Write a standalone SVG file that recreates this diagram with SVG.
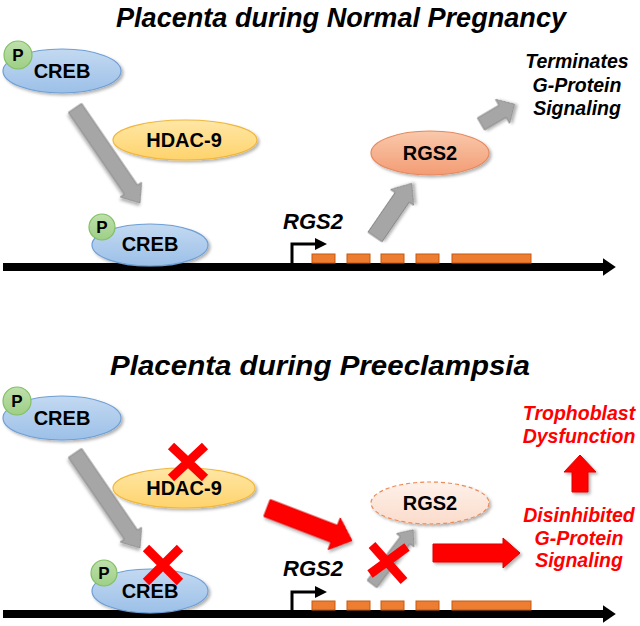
<svg xmlns="http://www.w3.org/2000/svg" width="640" height="626" viewBox="0 0 640 626">
<defs>
<style>
text{font-family:"Liberation Sans",Arial,sans-serif;font-weight:bold;fill:#000}
.title{font-size:27px;font-style:italic;text-anchor:middle}
.lbl{font-size:20px;text-anchor:middle}
.p{font-size:17px;text-anchor:middle}
.gene{font-size:22px;font-style:italic;text-anchor:middle}
.note{font-size:19.5px;font-style:italic;text-anchor:middle}
.red{fill:#FF0000}
.creb{fill:url(#gBlue);stroke:#6F9FD5;stroke-width:1.2;filter:url(#sh)}
.pc{fill:url(#gGreen);stroke:#82BF64;stroke-width:1.2}
.hdac{fill:url(#gYel);stroke:#F0B73C;stroke-width:1.2;filter:url(#sh)}
.rgs{fill:url(#gOr);stroke:#E5895F;stroke-width:1.2;filter:url(#sh)}
.rgsd{fill:url(#gPale);stroke:#EE8A55;stroke-width:1.2;stroke-dasharray:4 3;filter:url(#sh)}
.garr{fill:#A6A6A6;stroke:#8A8A8A;stroke-width:1;filter:url(#sh)}
.rarr{fill:#FF0000;stroke:#E00000;stroke-width:1;filter:url(#sh)}
.x{stroke:#FF0000;stroke-width:9;fill:none}
.exon{fill:#ED7D31;stroke:#C55A11;stroke-width:1}
.dna{stroke:#000;stroke-width:8;fill:none}
.prom{stroke:#000;stroke-width:3;fill:none}
</style>
<linearGradient id="gBlue" x1="0" y1="0" x2="0" y2="1"><stop offset="0" stop-color="#C3D9F1"/><stop offset="1" stop-color="#9CC0E8"/></linearGradient>
<linearGradient id="gGreen" x1="0" y1="0" x2="0" y2="1"><stop offset="0" stop-color="#BFE0AC"/><stop offset="1" stop-color="#9ECF86"/></linearGradient>
<linearGradient id="gYel" x1="0" y1="0" x2="0" y2="1"><stop offset="0" stop-color="#FFE7A6"/><stop offset="1" stop-color="#FFD36C"/></linearGradient>
<linearGradient id="gOr" x1="0" y1="0" x2="0" y2="1"><stop offset="0" stop-color="#F9C9AC"/><stop offset="1" stop-color="#F39C74"/></linearGradient>
<linearGradient id="gPale" x1="0" y1="0" x2="0" y2="1"><stop offset="0" stop-color="#FEF1EA"/><stop offset="1" stop-color="#FBDCCB"/></linearGradient>
<filter id="sh" x="-20%" y="-20%" width="150%" height="150%"><feDropShadow dx="2" dy="2" stdDeviation="1.8" flood-color="#000" flood-opacity="0.3"/></filter>
<marker id="dnaHead" markerWidth="3" markerHeight="3" refX="0" refY="1.5" orient="auto" markerUnits="strokeWidth" viewBox="0 0 3 3"><path d="M0,0.4 L1.6,1.5 L0,2.6 Z" fill="#000"/></marker>
<marker id="promHead" markerWidth="4" markerHeight="4" refX="1" refY="2" orient="auto" markerUnits="strokeWidth" viewBox="0 0 4 4"><path d="M0,0 L4,2 L0,4 Z" fill="#000"/></marker>
</defs>

<!-- Titles -->
<text class="title" x="341" y="27" textLength="450" lengthAdjust="spacingAndGlyphs">Placenta during Normal Pregnancy</text>
<text class="title" x="320" y="375" textLength="420" lengthAdjust="spacingAndGlyphs">Placenta during Preeclampsia</text>

<!-- DNA and gene structure -->
<g id="gene-top">
<line class="dna" x1="3" y1="267" x2="603" y2="267" marker-end="url(#dnaHead)"/>
<polyline class="prom" points="292,264 292,244 318,244" marker-end="url(#promHead)"/>
<rect class="exon" x="312" y="254" width="23" height="9"/>
<rect class="exon" x="347" y="254" width="23" height="9"/>
<rect class="exon" x="381" y="254" width="23" height="9"/>
<rect class="exon" x="416" y="254" width="23" height="9"/>
<rect class="exon" x="452" y="254" width="79" height="9"/>
<text class="gene" x="313" y="229">RGS2</text>
</g>
<g id="gene-bottom">
<line class="dna" x1="3" y1="614" x2="603" y2="614" marker-end="url(#dnaHead)"/>
<polyline class="prom" points="292,611 292,592 318,592" marker-end="url(#promHead)"/>
<rect class="exon" x="312" y="601" width="23" height="9"/>
<rect class="exon" x="347" y="601" width="23" height="9"/>
<rect class="exon" x="381" y="601" width="23" height="9"/>
<rect class="exon" x="416" y="601" width="23" height="9"/>
<rect class="exon" x="452" y="601" width="79" height="9"/>
<text class="gene" x="313" y="576">RGS2</text>
</g>

<!-- Connectors -->
<g id="connectors">
<polygon class="garr" transform="translate(75,108) rotate(55.6)" points="0,-8 99,-8 99,-13 115,0 99,13 99,8 0,8"/>
<polygon class="garr" transform="translate(375,237) rotate(-55.6)" points="0,-8.5 48,-8.5 48,-14 65,0 48,14 48,8.5 0,8.5"/>
<polygon class="garr" transform="translate(481,124) rotate(-30.5)" points="0,-7 25,-7 25,-14 39,0 25,14 25,7 0,7"/>
<polygon class="garr" transform="translate(75,453) rotate(55.6)" points="0,-8 99,-8 99,-13 115,0 99,13 99,8 0,8"/>
<polygon class="garr" transform="translate(372,584) rotate(-52.8)" points="0,-6 55,-6 55,-11 68,0 55,11 55,6 0,6"/>
<polygon class="rarr" transform="translate(267,508) rotate(21)" points="0,-9 72,-9 72,-17 91,0 72,17 72,9 0,9"/>
<polygon class="rarr" points="433,544 503,544 503,538 520,553 503,568 503,562 433,562"/>
<polygon class="rarr" points="572,492 572,472 564,472 580,455 596,472 588,472 588,492"/>
</g>

<!-- Top section nodes -->
<g id="creb-top-1">
<ellipse class="creb" cx="62" cy="71" rx="59" ry="22"/>
<circle class="pc" cx="18" cy="55" r="14"/>
<text class="p" x="18" y="61">P</text>
<text class="lbl" x="62" y="78">CREB</text>
</g>
<g id="hdac-top">
<ellipse class="hdac" cx="185" cy="140" rx="72" ry="20"/>
<text class="lbl" x="184" y="147">HDAC-9</text>
</g>
<g id="creb-top-2">
<ellipse class="creb" cx="150" cy="245" rx="58" ry="21"/>
<circle class="pc" cx="102" cy="227" r="13"/>
<text class="p" x="102" y="233">P</text>
<text class="lbl" x="150" y="251">CREB</text>
</g>
<g id="rgs2-top">
<ellipse class="rgs" cx="430" cy="153" rx="59" ry="22"/>
<text class="lbl" x="430" y="160">RGS2</text>
</g>
<g id="terminates">
<text class="note" x="577" y="68">Terminates</text>
<text class="note" x="577" y="92">G-Protein</text>
<text class="note" x="577" y="115">Signaling</text>
</g>

<!-- Bottom section nodes -->
<g id="creb-bot-1">
<ellipse class="creb" cx="62" cy="418" rx="59" ry="22"/>
<circle class="pc" cx="17" cy="401" r="14"/>
<text class="p" x="17" y="407">P</text>
<text class="lbl" x="62" y="425">CREB</text>
</g>
<g id="hdac-bot">
<ellipse class="hdac" cx="184" cy="488" rx="71" ry="20"/>
<text class="lbl" x="184" y="495">HDAC-9</text>
<path class="x" d="M171,446 L205,478 M205,446 L171,478"/>
</g>
<g id="creb-bot-2">
<ellipse class="creb" cx="150" cy="591" rx="58" ry="22"/>
<circle class="pc" cx="104" cy="573" r="13"/>
<text class="p" x="104" y="579">P</text>
<text class="lbl" x="150" y="598">CREB</text>
<path class="x" d="M146,548 L180,582 M180,548 L146,582"/>
</g>
<g id="rgs2-bot">
<ellipse class="rgsd" cx="430" cy="503" rx="59" ry="21"/>
<text class="lbl" x="430" y="510">RGS2</text>
</g>
<g id="x-translation">
<path class="x" d="M372,545 L404,581 M370,574 L407,547"/>
</g>
<g id="trophoblast">
<text class="note red" x="579" y="420">Trophoblast</text>
<text class="note red" x="579" y="443">Dysfunction</text>
</g>
<g id="disinhibited">
<text class="note red" x="579" y="522">Disinhibited</text>
<text class="note red" x="579" y="545">G-Protein</text>
<text class="note red" x="579" y="567">Signaling</text>
</g>
</svg>
